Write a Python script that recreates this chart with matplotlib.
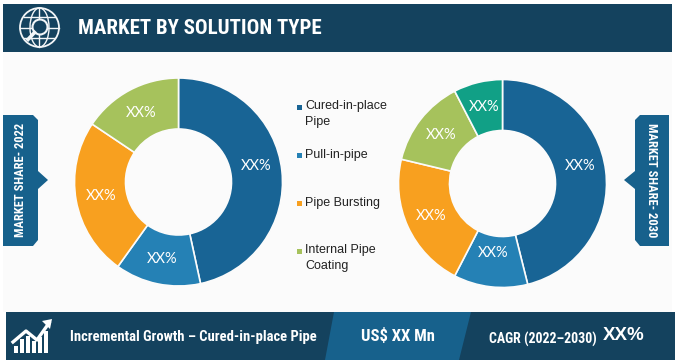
#!/usr/bin/python3

import math
import matplotlib
matplotlib.use("Agg")
import matplotlib.pyplot as plt
from matplotlib.patches import Polygon, Rectangle, Circle, Ellipse

NARROW = ['Roboto Condensed', 'Liberation Sans', 'DejaVu Sans']
REGULAR = ['Liberation Sans', 'DejaVu Sans']
LIGHT = ['Lato', 'Liberation Sans', 'DejaVu Sans']
plt.rcParams['font.family'] = NARROW

solutions = ["Cured-in-place\nPipe", "Pull-in-pipe", "Pipe Bursting", "Internal Pipe\nCoating"]
legend_y = [114, 155, 203, 258]
shares_2022 = [46.6, 13.3, 24.5, 15.6]
shares_2030 = [46.1, 11.5, 21.15, 13.65, 7.6]
labels_2022 = ["XX%", "XX%", "XX%", "XX%"]
labels_2030 = ["XX%", "XX%", "XX%", "XX%", "XX%"]
lift_2022 = [8, 0, 0, 0]
lift_2030 = [8, 8, 0, 0, 0]
colors_2022 = ["#186495", "#2581b5", "#f8a01f", "#a6c25c"]
colors_2030 = ["#186495", "#2581b5", "#f8a01f", "#a6c25c", "#11a086"]

DARK = "#14425e"
MID = "#17618c"
W, H = 685, 363


def Y(y):
    return H - y


def poly(ax, pts, color, z=2):
    ax.add_patch(Polygon([(x, Y(y)) for x, y in pts], closed=True, fc=color, ec="none", zorder=z))


def donut(ax, cx, cy, values, colors, labels, lifts):
    ax.pie(values, colors=colors, startangle=90, counterclock=False,
           center=(cx, Y(cy)), radius=104, frame=True,
           wedgeprops=dict(width=51, linewidth=1.2, edgecolor="#fbfbfb"))
    total = sum(values)
    start = 0
    for v, lab, lift in zip(values, labels, lifts):
        mid = (start + v / 2) / total * 2 * math.pi
        ax.text(cx + 78.5 * math.sin(mid), Y(cy) + 78.5 * math.cos(mid) + lift, lab, ha="center",
                va="center", fontsize=10.5, color="white", family=LIGHT, zorder=5)
        start += v


def side_tab(ax, x0, x1, tip, label, rotation, text_x):
    # flag with clipped corners and a small pointer toward the donut
    inner = x1 if tip > x1 else x0
    outer = x0 if tip > x1 else x1
    step = 5 if tip > x1 else -5
    pts = [(outer, 115), (inner - step, 115), (inner, 120), (inner, 171), (tip, 180),
           (inner, 189), (inner, 240), (inner - step, 246), (outer, 246)]
    poly(ax, pts, MID)
    ax.text(text_x, Y(180), label, rotation=rotation, ha="center", va="center",
            fontsize=9, color="white", fontweight="bold")


def globe_icon(ax):
    c = "#f2f5f7"
    ax.add_patch(Circle((39.5, Y(27.5)), 19.5, fc="none", ec=c, lw=1.3, zorder=3))
    ax.add_patch(Ellipse((39.5, Y(27.5)), 19, 39, fc="none", ec=c, lw=1.0, zorder=3))
    ax.plot([39.5, 39.5], [Y(8), Y(47)], color=c, lw=1.0, zorder=3)
    ax.plot([20, 59], [Y(27.5), Y(27.5)], color=c, lw=1.0, zorder=3)
    ax.plot([24, 55], [Y(17), Y(17)], color=c, lw=1.0, zorder=3)
    ax.plot([24, 55], [Y(38), Y(38)], color=c, lw=1.0, zorder=3)
    ax.add_patch(Circle((40, Y(27)), 7.5, fc=DARK, ec=c, lw=1.5, zorder=4))
    ax.plot([34.5, 28], [Y(32.5), Y(39.5)], color=c, lw=2.6, zorder=4)


def growth_icon(ax):
    c = "white"
    for x, top in zip([14, 20, 26, 32, 38, 44], [346, 339, 336, 341, 337, 331]):
        ax.add_patch(Rectangle((x, Y(353)), 4.5, 353 - top, fc=c, ec="none", zorder=3))
    ax.plot([13, 26, 37, 49], [Y(342), Y(331), Y(340), Y(323)], color=c, lw=2.4, zorder=3)
    poly(ax, [(52, 319), (42, 321), (50, 329)], c, 3)


def main():
    fig = plt.figure(figsize=(W / 100, H / 100), dpi=100, facecolor="white")
    ax = fig.add_axes([0, 0, 1, 1])

    # panel behind everything
    ax.add_patch(Rectangle((3, Y(312)), 669, 260, fc="#fbfbfb", ec="none", zorder=0))

    donut(ax, 178.5, 182, shares_2022, colors_2022, labels_2022, lift_2022)
    donut(ax, 502.5, 183.5, shares_2030, colors_2030, labels_2030, lift_2030)

    ax.set_xlim(0, W)
    ax.set_ylim(0, H)
    ax.set_aspect("auto")
    ax.axis("off")

    # header
    ax.add_patch(Rectangle((3, Y(52)), 669, 48, fc=DARK, ec="none", zorder=2))
    globe_icon(ax)
    ax.text(78, Y(29), "MARKET BY SOLUTION TYPE", ha="left", va="center", fontsize=15,
            fontweight="bold", color="white", zorder=3)

    # side tabs
    side_tab(ax, 3, 38, 48, "MARKET SHARE- 2022", 90, 21)
    side_tab(ax, 635, 669, 624, "MARKET SHARE- 2030", 270, 651.5)

    # legend
    for lab, ly, col in zip(solutions, legend_y, colors_2022):
        first_y = ly - 7 if "\n" in lab else ly
        ax.add_patch(Rectangle((297, Y(first_y + 2.5)), 5, 5, fc=col, ec="none", zorder=3))
        ax.text(305, Y(ly), lab, ha="left", va="center", fontsize=9, color="#222222",
                linespacing=1.45, family=REGULAR)

    # footer
    ax.add_patch(Rectangle((6, Y(360)), 669, 48, fc=DARK, ec="none", zorder=2))
    poly(ax, [(334, 312), (471, 312), (459, 360), (325, 360)], MID, 3)
    growth_icon(ax)
    ax.text(70, Y(337), "Incremental Growth – Cured-in-place Pipe", ha="left", va="center",
            fontsize=10.5, fontweight="bold", color="white", zorder=4)
    ax.text(361, Y(336), "US$ XX Mn", ha="left", va="center", fontsize=12,
            fontweight="bold", color="white", zorder=4)
    ax.text(489, Y(339), "CAGR (2022–2030)", ha="left", va="center", fontsize=10,
            fontweight="bold", color="white", zorder=4)
    ax.text(603, Y(336), "XX%", ha="left", va="center", fontsize=13.5,
            fontweight="bold", color="white", zorder=4, family=REGULAR)

    fig.savefig("out.png", dpi=100, facecolor="white")


main()
